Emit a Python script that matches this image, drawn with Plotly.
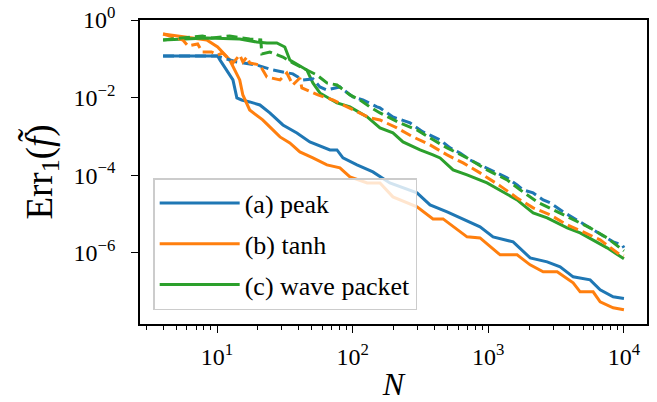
import plotly.graph_objects as go

# ---- data (error values stored as log10) ----
peak_N = [4, 7, 10.1, 10.5, 13.1, 14.0, 15.2, 17.4, 20.7, 24.5, 30.6, 38.8, 48.3, 68, 76.6, 84.8,
          107.6, 141, 167, 188, 298, 372, 497, 619, 869, 1084, 1524, 2034, 2716, 3385, 4223,
          5632, 6677, 8325, 10000]
peak_log10_err = [-0.928, -0.94, -0.93, -1.03, -1.546, -2.010, -2.062, -2.113, -2.191, -2.397,
                  -2.706, -2.912, -3.144, -3.351, -3.351, -3.557, -3.737, -3.918, -4.072, -4.201,
                  -4.459, -4.768, -4.948, -5.103, -5.335, -5.593, -5.722, -6.134, -6.237, -6.366,
                  -6.624, -6.701, -6.959, -7.139, -7.180]

peak_dash_N = [4, 7, 10.1, 10.5, 14.0, 19.6, 25.8, 36.2, 42.9, 50.9, 57.3, 64.6, 80.5, 100.5, 119,
               151, 159, 198, 265, 330, 441, 523, 619, 733, 979, 1375, 1631, 1806, 2141, 2537,
               2857, 3562, 4753, 6344, 8325, 9700, 10000]
peak_dash_log10_err = [-0.928, -0.94, -0.93, -0.954, -1.082, -1.160, -1.289, -1.39, -1.546, -1.52,
                       -1.727, -1.804, -1.727, -1.985, -2.062, -2.242, -2.268, -2.500, -2.655,
                       -2.887, -3.093, -3.299, -3.428, -3.608, -3.814, -4.072, -4.253, -4.381,
                       -4.459, -4.639, -4.716, -4.948, -5.206, -5.464, -5.722, -5.799, -5.876]

tanh_N = [4, 8.4, 10.1, 12.4, 14.7, 15.5, 17.4, 21.7, 24.5, 29.1, 34.4, 40.8, 50.9, 64.6, 80.5,
          95.5, 128, 159, 198, 298, 391, 464, 697, 869, 1222, 1631, 2034, 2537, 3218, 4223, 4753,
          5928, 6677, 8325, 10000]
tanh_log10_err = [-0.361, -0.515, -0.696, -1.031, -1.546, -1.933, -2.320, -2.577, -2.758, -3.015,
                  -3.170, -3.402, -3.557, -3.737, -3.814, -4.046, -4.201, -4.201, -4.562, -4.820,
                  -5.129, -5.129, -5.593, -5.619, -6.057, -6.057, -6.314, -6.495, -6.495, -6.778,
                  -7.010, -7.010, -7.268, -7.423, -7.474]

tanh_dash_N = [4, 5.6, 6.1, 7.2, 7.8, 9.1, 10.1, 11.0, 12.0, 13.1, 14.7, 15.5, 16.6, 17.4, 20.7,
               23.3, 29.1, 32.7, 36.2, 40.8, 42.2, 45.9, 55.4, 71.5, 95.5, 134, 159, 212, 279,
               372, 497, 652, 869, 1222, 1631, 2141, 2857, 3814, 5003, 6677, 9370, 10000]
tanh_dash_log10_err = [-0.361, -0.515, -0.670, -0.62, -0.825, -0.825, -0.902, -0.851, -0.979,
                       -1.108, -0.902, -1.082, -0.954, -1.108, -1.160, -1.469, -1.546, -1.366,
                       -1.675, -1.495, -1.753, -1.804, -1.933, -2.062, -2.268, -2.526, -2.577,
                       -2.784, -3.015, -3.222, -3.479, -3.686, -3.943, -4.278, -4.588, -4.845,
                       -5.026, -5.284, -5.464, -5.670, -6.057, -6.082]

wave_N = [4, 8.4, 14.7, 19.6, 23.3, 27.6, 31.6, 34.4, 45.9, 50.9, 57.3, 76.6, 95.5, 128, 159,
          198, 235, 314, 391, 441, 550, 697, 979, 1285, 1631, 1806, 2141, 2716, 3218, 3814,
          4753, 5928, 7516, 10000]
wave_log10_err = [-0.515, -0.464, -0.490, -0.567, -0.593, -0.593, -0.696, -1.031, -1.289, -1.624,
                  -1.881, -2.139, -2.242, -2.500, -2.784, -2.912, -3.144, -3.351, -3.479, -3.557,
                  -3.866, -3.995, -4.201, -4.433, -4.639, -4.768, -4.974, -5.103, -5.232, -5.361,
                  -5.490, -5.670, -5.876, -6.160]

wave_dash_N = [4, 7.8, 9.1, 12.4, 17.4, 20.7, 21.0, 21.4, 24.5, 30.6, 36.2, 45.9, 54.5, 64.6,
               76.6, 95.5, 113, 134, 159, 223, 298, 372, 497, 697, 979, 1375, 1717, 2292, 3007,
               4223, 5632, 7516, 10000]
wave_dash_log10_err = [-0.515, -0.412, -0.464, -0.412, -0.490, -0.515, -0.515, -0.876, -0.825,
                       -0.954, -1.108, -1.289, -1.418, -1.624, -1.675, -1.933, -2.062, -2.242,
                       -2.397, -2.655, -2.835, -3.041, -3.299, -3.557, -3.866, -4.124, -4.381,
                       -4.691, -4.897, -5.155, -5.361, -5.619, -5.954]

labels = ["(a) peak", "(b) tanh", "(c) wave packet"]
colors = ["#1f77b4", "#ff7f0e", "#2ca02c"]

x_tick_vals = [10, 100, 1000, 10000]
x_tick_text = ["10<sup>1</sup>", "10<sup>2</sup>", "10<sup>3</sup>", "10<sup>4</sup>"]
y_tick_vals = [1, 1e-2, 1e-4, 1e-6]
y_tick_text = ["10<sup>0</sup>", "10<sup>\u22122</sup>", "10<sup>\u22124</sup>", "10<sup>\u22126</sup>"]

FONT = "Liberation Serif"
LW = 3.0
DASH = "11px,5px"

fig = go.Figure()
series = [
    (peak_N, peak_log10_err, peak_dash_N, peak_dash_log10_err),
    (tanh_N, tanh_log10_err, tanh_dash_N, tanh_dash_log10_err),
    (wave_N, wave_log10_err, wave_dash_N, wave_dash_log10_err),
]
for i, (sn, se, dn, de) in enumerate(series):
    fig.add_trace(go.Scatter(x=sn, y=[10 ** v for v in se], mode="lines", name=labels[i],
                             line=dict(color=colors[i], width=LW), legendgroup=str(i)))
for i, (sn, se, dn, de) in enumerate(series):
    fig.add_trace(go.Scatter(x=dn, y=[10 ** v for v in de], mode="lines", showlegend=False,
                             line=dict(color=colors[i], width=LW, dash=DASH)))

minor_vals = [m * 10 ** k for k in range(0, 5) for m in range(2, 10) if m * 10 ** k < 15000]

fig.update_layout(
    width=657, height=402,
    margin=dict(l=140, r=10, t=20, b=78, autoexpand=False),
    paper_bgcolor="white", plot_bgcolor="white",
    font=dict(family=FONT, size=24, color="black"),
    showlegend=True,
    legend=dict(x=0.026, y=0.046, xanchor="left", yanchor="bottom",
                bgcolor="rgba(255,255,255,0.8)", bordercolor="#cccccc", borderwidth=1.5,
                font=dict(family=FONT, size=26, color="black"), tracegroupgap=4, itemwidth=80),
)
fig.update_xaxes(type="log", range=[0.432, 4.17], showgrid=False, zeroline=False, automargin=False,
                 showline=True, linecolor="black", linewidth=1.6, mirror=True,
                 ticks="outside", ticklen=7, tickwidth=1.4, tickcolor="black",
                 tickvals=x_tick_vals, ticktext=x_tick_text, ticklabelstandoff=3,
                 tickfont=dict(family=FONT, size=24),
                 minor=dict(ticks="outside", ticklen=4, tickwidth=1.1, tickcolor="black",
                            tickvals=minor_vals, showgrid=False),
                 title=dict(text="<i>N</i>", font=dict(family=FONT, size=32), standoff=7))
fig.update_yaxes(type="log", range=[-7.84, 0.0], showgrid=False, zeroline=False, automargin=False,
                 showline=True, linecolor="black", linewidth=1.6, mirror=True,
                 ticks="outside", ticklen=7, tickwidth=1.4, tickcolor="black",
                 tickvals=y_tick_vals, ticktext=y_tick_text, ticklabelstandoff=11,
                 tickfont=dict(family=FONT, size=24),
                 title=dict(text="Err<sub>1</sub>(<i>f\u0303</i>)", font=dict(family=FONT, size=37),
                            standoff=10))

fig.write_html("out.html", config={"displayModeBar": False},
               post_script="document.body.style.margin='0';")
